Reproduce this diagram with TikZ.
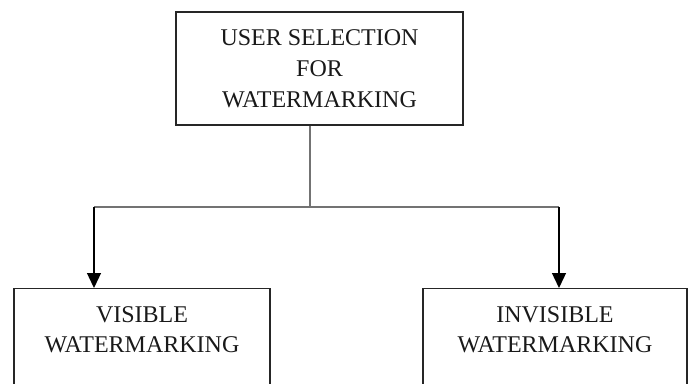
\documentclass[tikz,border=0pt]{standalone}
\usepackage{fontspec}
\setmainfont{Liberation Serif}
\usetikzlibrary{arrows.meta}
\begin{document}
\begin{tikzpicture}[x=1pt,y=-1pt,
  box/.style={draw=black!85, line width=1.3pt, rectangle, inner sep=0pt},
  lbl/.style={inner sep=0pt, align=center, text=black!90, font=\fontsize{24}{31}\selectfont},
  feed/.style={draw=black!55, line width=1.8pt},
  drop/.style={draw=black, line width=1.3pt, -{Triangle[length=15pt,width=14pt]}}]
\useasboundingbox (0,0) rectangle (691,383);
\clip (0,0) rectangle (691,383);

% source box
\node[box, lbl, minimum width=287pt, minimum height=113pt] (sel) at (319.5,68.5)
  {USER SELECTION\\FOR\\WATERMARKING};

% target boxes (they run past the lower edge)
\node[box, minimum width=256pt, minimum height=130pt, anchor=north] (vis) at (142,288) {};
\node[box, minimum width=264pt, minimum height=130pt, anchor=north] (inv) at (555,288) {};
\node[lbl, font=\fontsize{24}{30}\selectfont, anchor=north] (vistxt) at (142,306) {VISIBLE\\WATERMARKING};
\node[lbl, font=\fontsize{24}{30}\selectfont, anchor=north] (invtxt) at (555,306) {INVISIBLE\\WATERMARKING};

% branching connector
\path (sel.south) ++(-9.5,0) coordinate (stemtop);
\coordinate (fork) at (310,207);
\coordinate (lt) at (94,207);
\coordinate (rt) at (559,207);
\draw[feed] (stemtop) -- (fork);
\draw[feed] (lt) -- (rt);
\draw[drop] (lt) -- (lt |- vis.north);
\draw[drop] (rt) -- (rt |- inv.north);
\end{tikzpicture}
\end{document}
